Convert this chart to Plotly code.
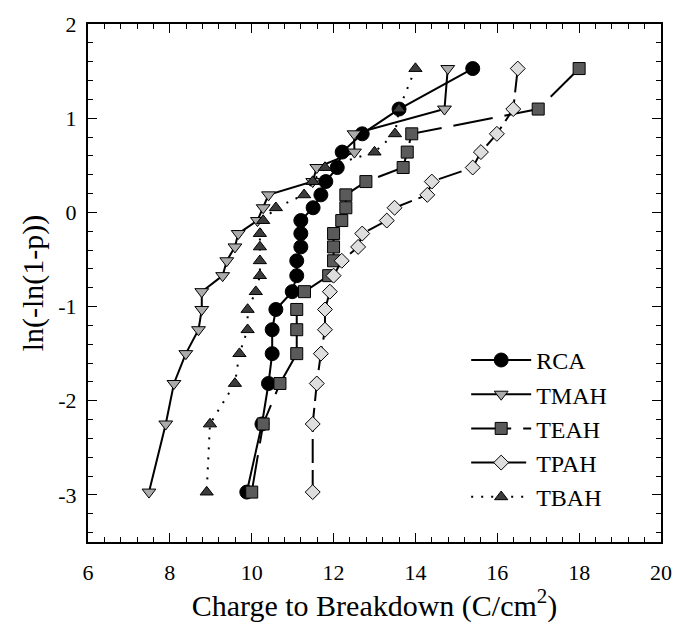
import plotly.graph_objects as go

# Weibull plotting positions ln(-ln(1-p)) shared by all five sample sets
weibull_y = [1.527, 1.097, 0.834, 0.640, 0.476, 0.327, 0.186, 0.049, -0.087, -0.225,
             -0.367, -0.514, -0.672, -0.842, -1.031, -1.246, -1.500, -1.817, -2.247, -2.970]

# Charge to breakdown (C/cm^2) for each clean chemistry
qbd_rca = [15.40, 13.60, 12.70, 12.21, 12.09, 11.81, 11.69, 11.50, 11.20, 11.20,
           11.20, 11.10, 11.10, 10.99, 10.59, 10.50, 10.50, 10.41, 10.25, 9.88]
qbd_tmah = [14.79, 14.71, 12.50, 12.51, 11.59, 11.49, 10.41, 10.28, 10.14, 9.67,
            9.59, 9.39, 9.29, 8.78, 8.78, 8.70, 8.39, 8.10, 7.90, 7.49]
qbd_teah = [18.00, 17.00, 13.91, 13.80, 13.70, 12.79, 12.30, 12.30, 12.20, 12.00,
            12.00, 12.00, 11.88, 11.29, 11.10, 11.10, 11.10, 10.69, 10.28, 10.00]
qbd_tpah = [16.50, 16.39, 15.99, 15.60, 15.40, 14.40, 14.29, 13.49, 13.30, 12.70,
            12.60, 12.20, 12.00, 11.91, 11.79, 11.79, 11.69, 11.59, 11.49, 11.49]
qbd_tbah = [14.00, 13.60, 13.50, 13.00, 11.79, 11.49, 11.28, 10.59, 10.28, 10.20,
            10.20, 10.20, 10.20, 10.10, 9.90, 9.90, 9.70, 9.59, 8.98, 8.90]

x_ticks = [6, 8, 10, 12, 14, 16, 18, 20]
y_ticks = [-3, -2, -1, 0, 1, 2]

FONT = "Liberation Serif, Times New Roman, serif"

series = [
    ("RCA", qbd_rca, "circle", 14, "#000000", "solid"),
    ("TMAH", qbd_tmah, "triangle-down", 12, "#ababab", "solid"),
    ("TEAH", qbd_teah, "square", 12, "#5a5a5a", "40px,12px"),
    ("TPAH", qbd_tpah, "diamond", 11.5, "#dedede", "24px,7px"),
    ("TBAH", qbd_tbah, "triangle-up", 11.5, "#3c3c3c", "2px,8px"),
]

fig = go.Figure()
for name, xs, sym, size, fill, dash in series:
    fig.add_trace(go.Scatter(
        x=xs, y=weibull_y, name=name, mode="lines+markers",
        line=dict(color="black", width=2, dash=dash),
        marker=dict(symbol=sym, size=size, color=fill,
                    line=dict(color="black", width=1)),
    ))

axis_common = dict(
    showgrid=False, zeroline=False, showline=True, linecolor="black", linewidth=2,
    mirror="allticks", ticks="inside", ticklen=9, tickwidth=1.2, tickcolor="black",
    tickfont=dict(family=FONT, size=22, color="black"),
)

fig.update_xaxes(
    range=[6, 20], tickvals=x_ticks, ticktext=[str(v) for v in x_ticks],
    ticklabelstandoff=10,
    minor=dict(ticks="inside", dtick=0.4, tick0=6, ticklen=5, tickwidth=1, tickcolor="black"),
    title=dict(text="Charge to Breakdown (C/cm<sup>2</sup>)",
               font=dict(family=FONT, size=30, color="black"), standoff=2),
    **axis_common,
)
fig.update_yaxes(
    range=[-3.5, 2], tickvals=y_ticks, ticktext=[str(v) for v in y_ticks],
    ticklabelstandoff=5,
    minor=dict(ticks="inside", dtick=0.2, tick0=0, ticklen=5, tickwidth=1, tickcolor="black"),
    title=dict(text="ln(-ln(1-p))", font=dict(family=FONT, size=30, color="black"), standoff=6),
    **axis_common,
)

fig.update_layout(
    width=687, height=623,
    margin=dict(l=88, r=26, t=18, b=81),
    paper_bgcolor="white", plot_bgcolor="white",
    legend=dict(x=0.66, y=0.394, xanchor="left", yanchor="top",
                font=dict(family=FONT, size=24, color="black"),
                bgcolor="rgba(0,0,0,0)", tracegroupgap=0, itemwidth=60),
    showlegend=True,
)

fig.write_html("out.html")
